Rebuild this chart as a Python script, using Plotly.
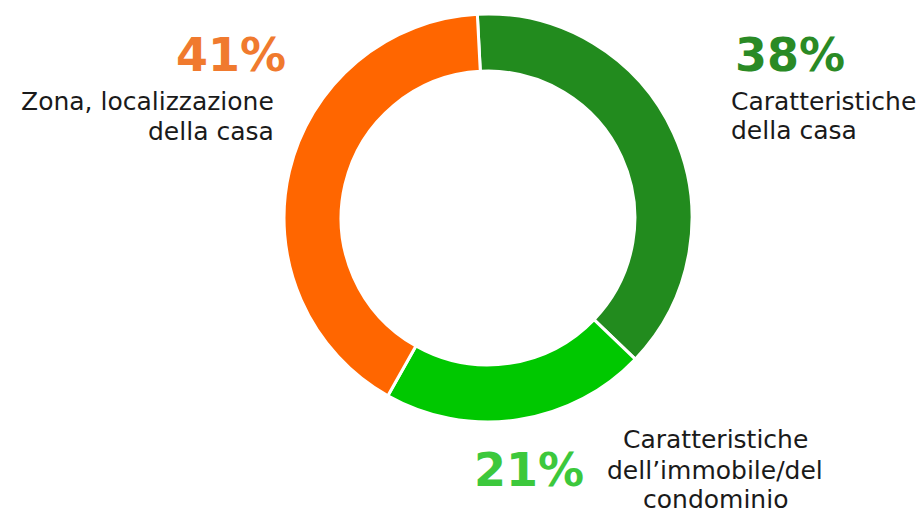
import plotly.graph_objects as go

W, H = 922, 515

categories = ["Caratteristiche della casa", "Caratteristiche dell'immobile/del condominio", "Zona, localizzazione della casa"]
values = [38, 21, 41]
slice_colors = ["#228B1E", "#00C800", "#FF6600"]
pct_colors = ["#2A8A25", "#3CC83C", "#F07A2E"]
pct_labels = ["38%", "21%", "41%"]

cx, cy, r = 488, 218, 204

fig = go.Figure(go.Pie(
    labels=categories, values=values, sort=False, direction="clockwise",
    rotation=-3, hole=0.72,
    marker=dict(colors=slice_colors, line=dict(color="white", width=3)),
    textinfo="none", hoverinfo="skip", showlegend=False,
    domain=dict(x=[(cx - r) / W, (cx + r) / W], y=[(H - cy - r) / H, (H - cy + r) / H]),
))

def px(x):
    return x / W

def py(y):
    return 1 - y / H

TXT = "#1a1a1a"
FONT = "DejaVu Sans"
anns = []

def add(text, x, y, xanchor, size, color, bold=False):
    anns.append(dict(text=("<b>%s</b>" % text) if bold else text, x=px(x), y=py(y),
                     xref="paper", yref="paper", xanchor=xanchor, yanchor="middle",
                     showarrow=False, font=dict(family=FONT, size=size, color=color)))

# Left label (41%)
add(pct_labels[2], 288, 55, "right", 46, pct_colors[2], True)
add("Zona, localizzazione", 276, 102, "right", 25, TXT)
add("della casa", 276, 131, "right", 25, TXT)

# Right label (38%)
add(pct_labels[0], 733, 55, "left", 46, pct_colors[0], True)
add("Caratteristiche", 729, 102, "left", 25, TXT)
add("della casa", 729, 130, "left", 25, TXT)

# Bottom label (21%)
add(pct_labels[1], 472, 470, "left", 46, pct_colors[1], True)
add("Caratteristiche", 715, 439, "center", 25, TXT)
add("dell\u2019immobile/del", 715, 470, "center", 25, TXT)
add("condominio", 715, 499, "center", 25, TXT)

fig.update_layout(
    width=W, height=H, margin=dict(l=0, r=0, t=0, b=0),
    paper_bgcolor="white", plot_bgcolor="white",
    annotations=anns,
)

fig.write_html("out.html", config={"displayModeBar": False},
               post_script="document.body.style.margin='0';document.body.style.overflow='hidden';")
